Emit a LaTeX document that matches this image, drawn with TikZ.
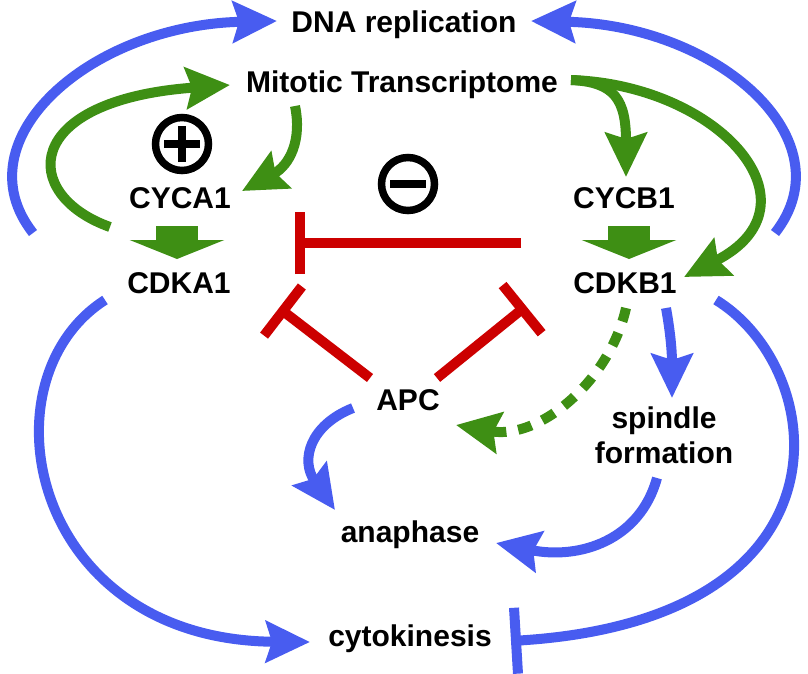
\documentclass[tikz,border=0pt]{standalone}
\usepackage{fontspec}
\setmainfont{Liberation Sans}
\usetikzlibrary{arrows.meta}
\definecolor{myblue}{RGB}{72,92,240}
\definecolor{mygreen}{RGB}{62,143,20}
\definecolor{myred}{RGB}{204,0,0}
\begin{document}
\begin{tikzpicture}[x=1pt,y=-1pt,
  lbl/.style={font=\fontsize{30}{35}\selectfont\bfseries, inner sep=0pt, anchor=base, align=center},
  tipbig/.tip={Stealth[length=44pt,width=41pt,inset=6pt]},
  bluearr/.style={draw=myblue, line width=10pt, -{tipbig}},
  greenarr/.style={draw=mygreen, line width=10pt, -{tipbig}},
  blueinh/.style={draw=myblue, line width=10pt, -{Bar[width=66pt]}},
  redinh/.style={draw=myred, line width=10pt, -{Bar[width=62pt]}},
  blockarr/.style={draw=mygreen, line width=42pt, -{Triangle[length=19pt,width=94pt]}},
  sign/.style={circle, draw, line width=7.5pt, minimum size=53pt, inner sep=0pt},
  signbar/.style={line width=7.5pt},
]
\useasboundingbox (0,0) rectangle (808,673);

% labels
\node[lbl] (dna) at (404,32) {DNA replication};
\node[lbl] (mito) at (402,92) {Mitotic Transcriptome};
\node[lbl] (cyca) at (180,208) {CYCA1};
\node[lbl] (cdka) at (179,293) {CDKA1};
\node[lbl] (cycb) at (624,208) {CYCB1};
\node[lbl] (cdkb) at (625,293) {CDKB1};
\node[lbl] (apc) at (408,410) {APC};
\node[lbl] (spindle) at (664,463) {spindle\\formation};
\node[lbl] (ana) at (410,542) {anaphase};
\node[lbl] (cyto) at (410,646) {cytokinesis};

% signs
\node[sign] (plus) at (182,144) {};
\draw[signbar] ([xshift=-18pt]plus.center) -- ([xshift=18pt]plus.center);
\draw[signbar] ([yshift=-18pt]plus.center) -- ([yshift=18pt]plus.center);
\node[sign] (minus) at (408,184) {};
\draw[signbar] ([xshift=-18pt]minus.center) -- ([xshift=18pt]minus.center);

% endpoints
\coordinate (b1s) at (33,233);   \coordinate (b1e) at (277,21);
\coordinate (b2s) at (775,233);  \coordinate (b2e) at (531,21);
\coordinate (g1s) at (110,227);  \coordinate (g1e) at (230,85);
\coordinate (g2s) at (295,106);  \coordinate (g2e) at (242,191);
\coordinate (g3s) at (571,80);   \coordinate (g3e) at (626,177);
\coordinate (g4e) at (684,277);
\coordinate (ka1) at (177,226);  \coordinate (ka2) at (177,259);
\coordinate (kb1) at (629,226);  \coordinate (kb2) at (629,259);
\coordinate (r1s) at (521,243);  \coordinate (r1e) at (295,243);
\coordinate (r2s) at (370,378);  \coordinate (r2e) at (279,308);
\coordinate (r3s) at (437,378);  \coordinate (r3e) at (526,306);
\coordinate (gds) at (626,308);  \coordinate (gde) at (456,425);
\coordinate (b3s) at (666,308);  \coordinate (b3e) at (672,398);
\coordinate (b4s) at (716,300);  \coordinate (b4e) at (511,641);
\coordinate (b5s) at (657,478);  \coordinate (b5e) at (496,543);
\coordinate (b6s) at (353,408);  \coordinate (b6e) at (335,510);
\coordinate (b7s) at (105,300);  \coordinate (b7e) at (310,642);

% blue arrows to DNA replication
\draw[bluearr] (b1s) .. controls (-40,140) and (90,25) .. (b1e);
\draw[bluearr] (b2s) .. controls (848,140) and (718,25) .. (b2e);

% green arrows
\draw[greenarr] (g1s) .. controls (20,195) and (20,100) .. (g1e);
\draw[greenarr] (g2s) .. controls (302,140) and (290,165) .. (g2e);
\draw[greenarr] (g3s) .. controls (615,82) and (626,100) .. (g3e);
\draw[greenarr] (g3s) .. controls (720,85) and (825,205) .. (g4e);
\draw[blockarr] (ka1) -- (ka2);
\draw[blockarr] (kb1) -- (kb2);
\draw[greenarr, dash pattern=on 14pt off 12pt] (gds) .. controls (610,380) and (540,440) .. (gde);

% red inhibitions
\draw[redinh] (r1s) -- (r1e);
\draw[redinh] (r2s) -- (r2e);
\draw[redinh] (r3s) -- (r3e);

% blue lower arrows
\draw[bluearr] (b3s) .. controls (670,330) and (672,350) .. (b3e);
\draw[blueinh] (b4s) .. controls (830,370) and (860,620) .. (b4e);
\draw[bluearr] (b5s) .. controls (640,540) and (580,560) .. (b5e);
\draw[bluearr] (b6s) .. controls (310,425) and (300,460) .. (b6e);
\draw[bluearr] (b7s) .. controls (-20,380) and (30,640) .. (b7e);
\end{tikzpicture}
\end{document}
